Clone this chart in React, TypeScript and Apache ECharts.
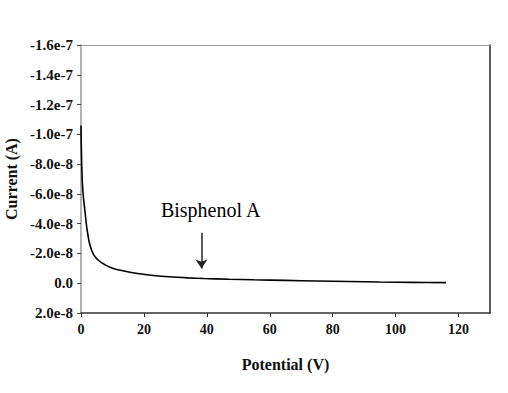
import React, { useEffect, useRef } from "react";
import * as echarts from "echarts";

// Potential (V)
const potential = [0, 0.1, 0.25, 0.45, 0.8, 1.3, 1.9, 2.8, 4.2, 6.5, 10, 14, 18, 23, 28, 34, 39, 47, 55, 65, 75, 85, 95, 105, 116];
// Current (A)
const current = [
  -10.6e-8, -9.2e-8, -7.8e-8, -6.7e-8, -5.7e-8, -4.75e-8, -3.65e-8, -2.6e-8, -1.85e-8, -1.38e-8,
  -1.0e-8, -0.8e-8, -0.65e-8, -0.52e-8, -0.43e-8, -0.36e-8, -0.32e-8, -0.27e-8, -0.23e-8,
  -0.19e-8, -0.15e-8, -0.12e-8, -0.08e-8, -0.06e-8, -0.04e-8,
];
const yTickLabels = ["-1.6e-7", "-1.4e-7", "-1.2e-7", "-1.0e-7", "-8.0e-8", "-6.0e-8", "-4.0e-8", "-2.0e-8", "0.0", "2.0e-8"];
const yMin = -1.6e-7;
const yMax = 2e-8;
const yStep = 2e-8;
const xMin = 0;
const xMax = 130;
const xStep = 20;

// Annotation
const annotationText = "Bisphenol A";
const annotationLabelAt = [41.2, -4.92e-8];
const arrowFrom = [38.3, -3.39e-8];
const arrowTo = [38.3, -0.99e-8];

const FONT = "'Liberation Serif', 'DejaVu Serif', serif";

export default function App() {
  const ref = useRef<HTMLDivElement>(null);
  useEffect(() => {
    if (!ref.current) return;
    const chart = echarts.init(ref.current, null, { renderer: "svg" });
    const yFmt = (v: number) => {
      const i = Math.round((v - yMin) / yStep);
      return yTickLabels[i] ?? "";
    };
    chart.setOption({
      animation: false,
      backgroundColor: "#ffffff",
      grid: { left: 81, right: 18, top: 45, bottom: 80, containLabel: false, outerBoundsMode: "none" },
      xAxis: [
        {
          type: "value",
          min: xMin,
          max: xMax,
          interval: xStep,
          name: "Potential (V)",
          nameLocation: "middle",
          nameGap: 43,
          nameTextStyle: { fontFamily: FONT, fontWeight: "bold", fontSize: 16, color: "#111" },
          axisLine: { show: true, onZero: false, lineStyle: { color: "#333", width: 1.5 } },
          axisTick: { show: true, inside: false, length: 4, lineStyle: { color: "#333" } },
          axisLabel: { showMaxLabel: false, margin: 9, fontFamily: FONT, fontWeight: "bold", fontSize: 14, color: "#111" },
          splitLine: { show: false },
        },
        {
          type: "value",
          position: "top",
          min: xMin,
          max: xMax,
          axisLine: { show: true, onZero: false, lineStyle: { color: "#999", width: 1 } },
          axisTick: { show: false },
          axisLabel: { show: false },
          splitLine: { show: false },
        },
      ],
      yAxis: [
        {
          type: "value",
          inverse: true,
          min: yMin,
          max: yMax,
          interval: yStep,
          name: "Current (A)",
          nameLocation: "middle",
          nameGap: 60,
          nameTextStyle: { fontFamily: FONT, fontWeight: "bold", fontSize: 16, color: "#111" },
          axisLine: { show: true, onZero: false, lineStyle: { color: "#999", width: 1.5 } },
          axisTick: { show: true, inside: false, length: 4, lineStyle: { color: "#444" } },
          axisLabel: { formatter: yFmt, margin: 8, fontFamily: FONT, fontWeight: "bold", fontSize: 15, color: "#111" },
          splitLine: { show: false },
        },
        {
          type: "value",
          position: "right",
          inverse: true,
          min: yMin,
          max: yMax,
          axisLine: { show: true, onZero: false, lineStyle: { color: "#222", width: 1.5 } },
          axisTick: { show: false },
          axisLabel: { show: false },
          splitLine: { show: false },
        },
      ],
      series: [
        {
          type: "line",
          xAxisIndex: 0,
          yAxisIndex: 0,
          data: potential.map((x, i) => [x, current[i]]),
          showSymbol: false,
          symbol: "none",
          smooth: 0.3,
          lineStyle: { color: "#000", width: 1.6 },
          markLine: {
            silent: true,
            symbol: ["none", "arrow"],
            symbolSize: [9, 9],
            label: { show: false },
            lineStyle: { color: "#222", width: 1.5, type: "solid" },
            data: [[{ coord: arrowFrom }, { coord: arrowTo }]],
          },
          markPoint: {
            silent: true,
            symbol: "rect",
            symbolSize: 1,
            itemStyle: { color: "rgba(0,0,0,0)" },
            label: {
              show: true,
              position: "inside",
              formatter: annotationText,
              fontFamily: FONT,
              fontSize: 20,
              color: "#000",
            },
            data: [{ coord: annotationLabelAt }],
          },
        },
      ],
    });
    return () => chart.dispose();
  }, []);
  return (
    <div
      ref={ref}
      style={{ position: "fixed", left: 0, top: 0, width: 508, height: 393, background: "#fff" }}
    />
  );
}
